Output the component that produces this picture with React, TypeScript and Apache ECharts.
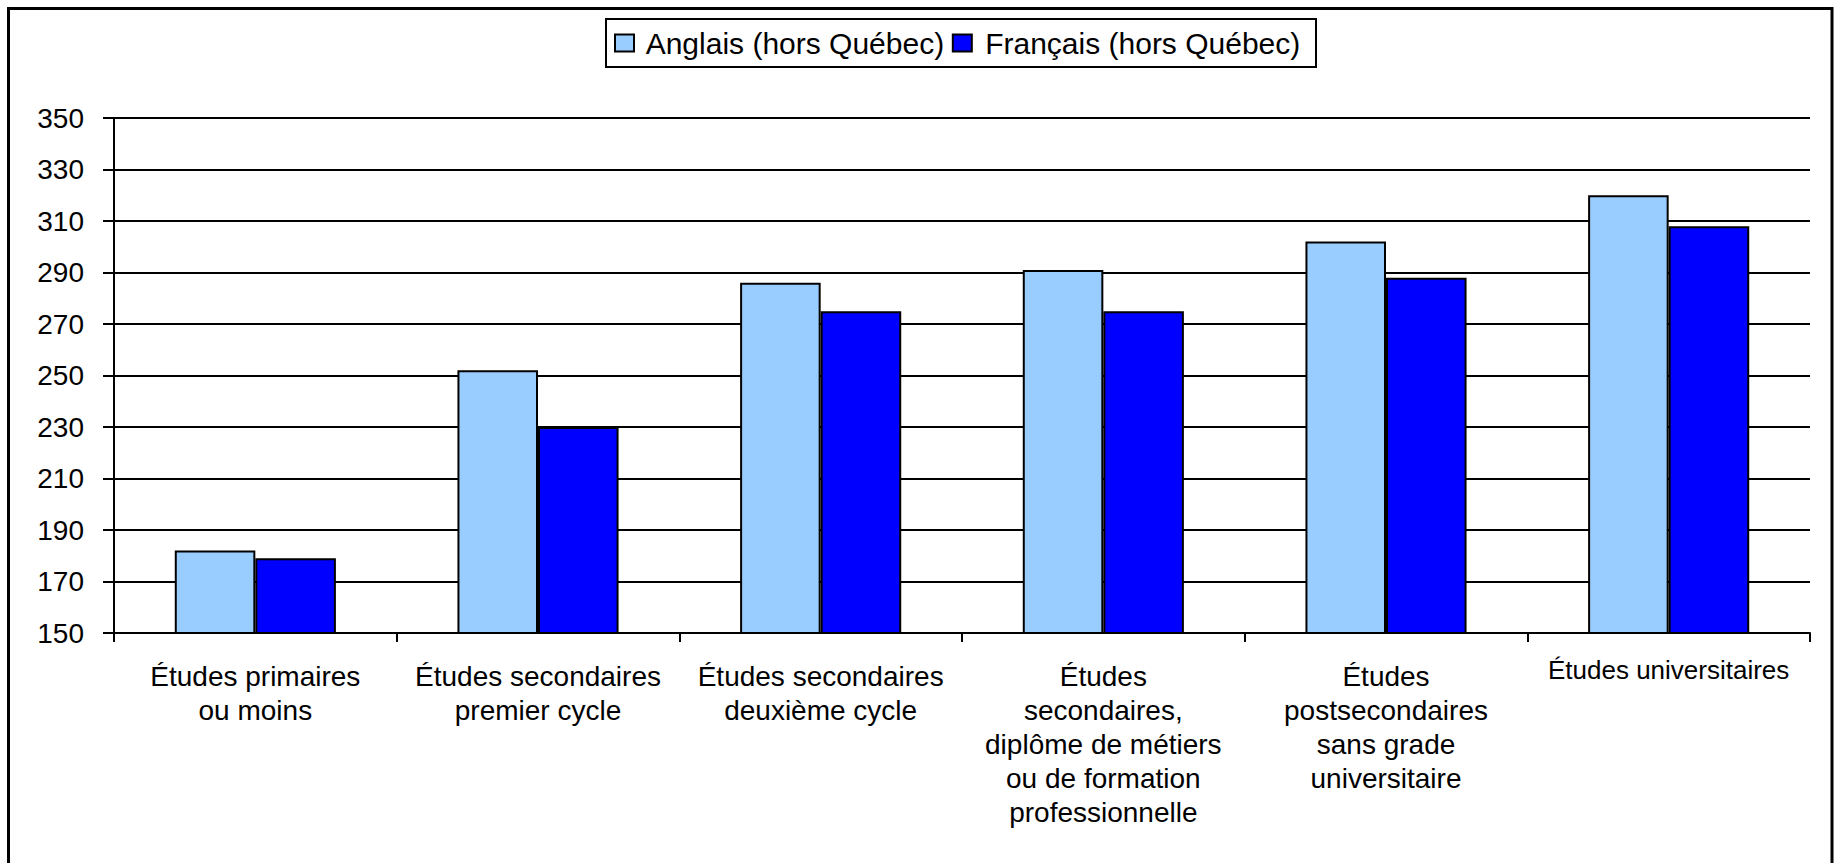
import React, { useEffect, useRef } from "react";
import * as echarts from "echarts";

const categories = [
  "Études primaires\nou moins",
  "Études secondaires\npremier cycle",
  "Études secondaires\ndeuxième cycle",
  "Études\nsecondaires,\ndiplôme de métiers\nou de formation\nprofessionnelle",
  "Études\npostsecondaires\nsans grade\nuniversitaire",
  "Études universitaires",
];
const anglais = [182, 252, 286, 291, 302, 320];
const francais = [179, 230, 275, 275, 288, 308];
const seriesNames = ["Anglais (hors Québec)", "Français (hors Québec)"];
const yMin = 150;
const yMax = 350;
const yStep = 20;

const FONT = '"Liberation Sans", Arial, sans-serif';

export default function App() {
  const ref = useRef<HTMLDivElement>(null);
  useEffect(() => {
    if (!ref.current) return;
    const chart = echarts.init(ref.current, null, { renderer: "svg" });
    chart.setOption({
      animation: false,
      backgroundColor: "#ffffff",
      textStyle: { fontFamily: FONT, color: "#000" },
      graphic: [
        {
          type: "rect",
          shape: { x: 8.5, y: 8.5, width: 1823.5, height: 870 },
          style: { fill: "none", stroke: "#000", lineWidth: 3 },
          silent: true,
        },
        {
          type: "rect",
          shape: { x: 606, y: 19, width: 710, height: 48 },
          style: { fill: "none", stroke: "#000", lineWidth: 2 },
          silent: true,
        },
      ],
      legend: {
        left: 614,
        top: 28,
        itemWidth: 19,
        itemHeight: 17,
        itemGap: 6,
        padding: 0,
        formatter: (n: string) => " " + n,
        textStyle: { fontSize: 30, fontFamily: FONT, color: "#000" },
        data: seriesNames.map((n) => ({ name: n, icon: "rect" })),
      },
      grid: { left: 114, right: 27, top: 118, bottom: 230, containLabel: false },
      xAxis: {
        type: "category",
        data: categories,
        axisLine: { lineStyle: { color: "#000", width: 2 } },
        axisTick: { show: true, alignWithLabel: false, length: 9, lineStyle: { color: "#000", width: 2 } },
        axisLabel: {
          interval: 0,
          margin: 26,
          fontSize: 28,
          lineHeight: 34,
          color: "#000",
          fontFamily: FONT,
          formatter: (v: string) =>
            v === "Études universitaires" ? "{s|" + v + "}" : v,
          rich: {
            s: { fontSize: 26, lineHeight: 22, fontFamily: FONT, color: "#000" },
          },
        },
      },
      yAxis: {
        type: "value",
        min: yMin,
        max: yMax,
        interval: yStep,
        axisLine: { show: true, lineStyle: { color: "#000", width: 2 } },
        axisTick: { show: true, length: 11, lineStyle: { color: "#000", width: 2 } },
        axisLabel: { margin: 30, fontSize: 28, color: "#000", fontFamily: FONT },
        splitLine: { show: true, lineStyle: { color: "#000", width: 2 } },
      },
      series: [
        {
          name: seriesNames[0],
          type: "bar",
          data: anglais,
          barGap: "0%",
          barCategoryGap: "43%",
          itemStyle: { color: "#99CCFF", borderColor: "#000", borderWidth: 2 },
        },
        {
          name: seriesNames[1],
          type: "bar",
          data: francais,
          barGap: "0%",
          barCategoryGap: "43%",
          itemStyle: { color: "#0000FF", borderColor: "#000", borderWidth: 2 },
        },
      ],
    });
    return () => chart.dispose();
  }, []);
  return (
    <div
      ref={ref}
      style={{ position: "absolute", left: 0, top: 0, width: 1837, height: 863 }}
    />
  );
}
